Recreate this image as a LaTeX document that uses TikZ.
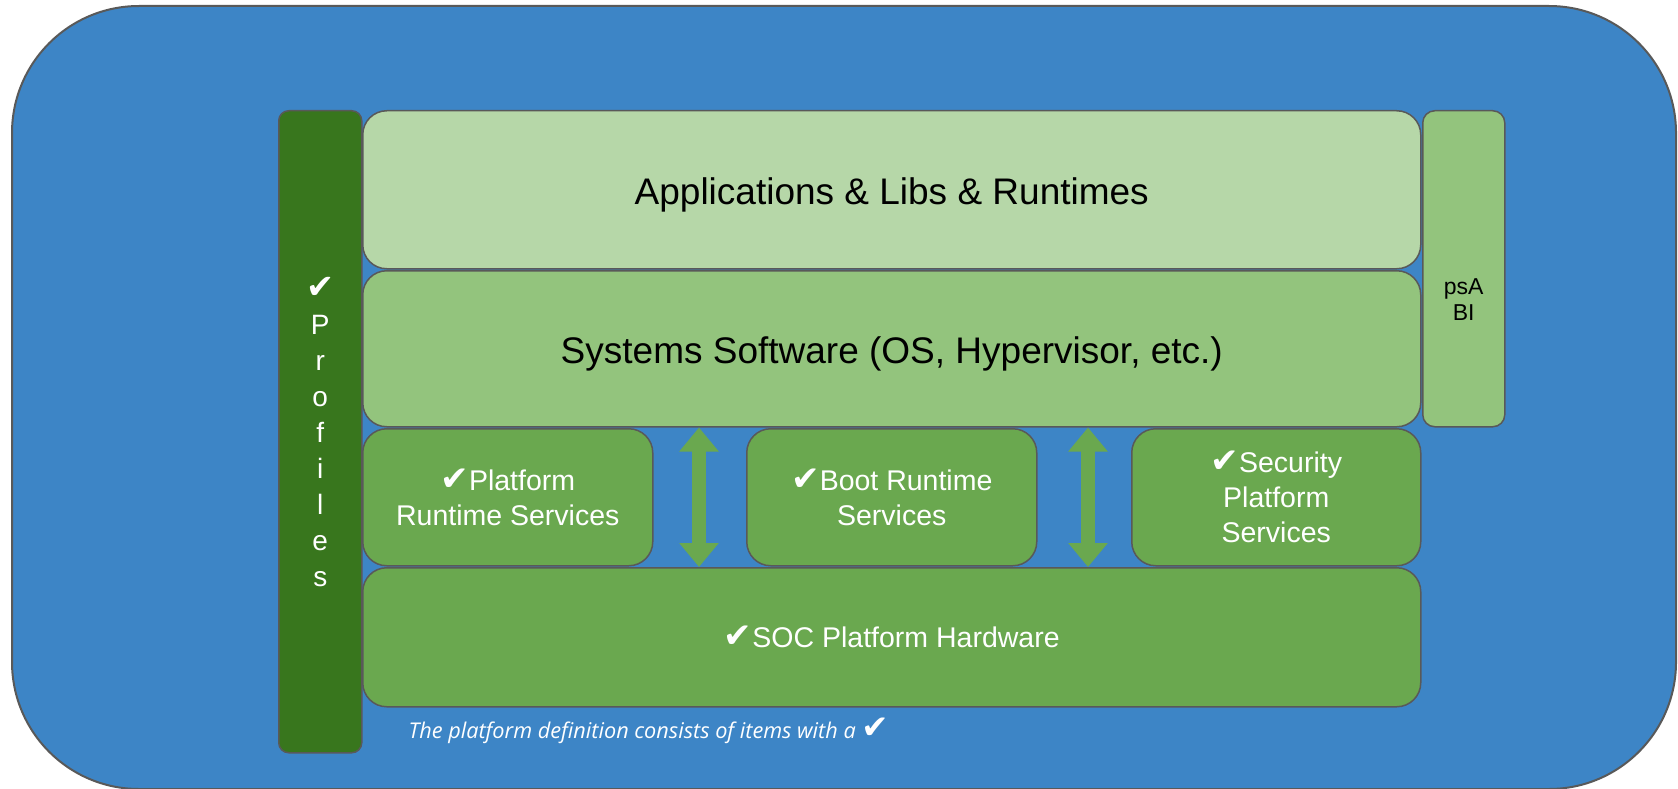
\documentclass[tikz,border=0pt]{standalone}
\usepackage{fontspec}
\setmainfont{Liberation Sans}
\newfontfamily\symfont{DejaVu Sans}
\newfontfamily\notefont{Open Sans}
\usetikzlibrary{arrows.meta}

\definecolor{bgblue}{HTML}{3D85C6}
\definecolor{edgegray}{HTML}{595959}
\definecolor{darkgreen}{HTML}{38761D}
\definecolor{lightgreen}{HTML}{B6D7A8}
\definecolor{midgreen}{HTML}{93C47D}
\definecolor{svcgreen}{HTML}{6AA84F}

\newcommand{\tick}{{\symfont\scalebox{1.2}{✔}}}

\tikzset{
  layer/.style={draw=edgegray, line width=1.5pt, rounded corners=24pt,
    anchor=north west, inner sep=0pt, align=center},
  bigtext/.style={font=\fontsize{37}{44}\selectfont, text height=37pt, text depth=8pt},
  svctext/.style={font=\fontsize{28.5}{35}\selectfont, text=white},
  twoway/.style={svcgreen, line width=14pt,
    {Triangle[width=38pt,length=24pt]}-{Triangle[width=38pt,length=24pt]}}
}

\begin{document}
\begin{tikzpicture}[x=1pt,y=-1pt]
\useasboundingbox (0,0) rectangle (1678,789);

% background panel
\node[draw=edgegray, line width=2pt, fill=bgblue, rounded corners=127pt,
  anchor=north west, minimum width=1664pt, minimum height=783pt] (frame) at (11,5) {};

% side bars
\node[layer, rounded corners=10pt, fill=darkgreen, minimum width=83pt, minimum height=642pt,
  text=white, font=\fontsize{28}{36}\selectfont] (prof) at (278,110)
  {\tick\\P\\r\\o\\f\\i\\l\\e\\s};
\node[layer, rounded corners=12pt, fill=midgreen, minimum width=82pt, minimum height=316pt]
  (psabi) at (1422,110) {};
\node[font=\fontsize{23}{26}\selectfont, align=center] (psabitext)
  at ([yshift=-31pt]psabi.center) {psA\\BI};

% main stack
\node[layer, bigtext, fill=lightgreen, minimum width=1058pt, minimum height=158pt]
  (apps) at (362,110) {Applications \& Libs \& Runtimes};
\node[layer, bigtext, fill=midgreen, minimum width=1058pt, minimum height=156pt]
  (sys) at (362,270) {Systems Software (OS, Hypervisor, etc.)};

\node[layer, svctext, fill=svcgreen, minimum width=290pt, minimum height=137pt]
  (prs) at (362,428) {\tick Platform\\Runtime Services};
\node[layer, svctext, fill=svcgreen, minimum width=290pt, minimum height=137pt]
  (brs) at (746,428) {\tick Boot Runtime\\Services};
\node[layer, svctext, fill=svcgreen, minimum width=289pt, minimum height=137pt]
  (sps) at (1131,428) {\tick Security\\Platform\\Services};

\node[layer, svctext, fill=svcgreen, minimum width=1058pt, minimum height=139pt]
  (soc) at (362,567) {\tick SOC Platform Hardware};

% links between the service boxes
\coordinate (gapA) at (699,0);
\coordinate (gapB) at (1088,0);
\draw[twoway] (sys.south -| gapA) -- (soc.north -| gapA);
\draw[twoway] (sys.south -| gapB) -- (soc.north -| gapB);

% footnote
\node[anchor=west, text=white, font=\notefont\itshape\fontsize{21.7}{24}\selectfont]
  (note) at (405,731) {The platform definition consists of items with a {\scalebox{1.25}{\tick}}};
\end{tikzpicture}
\end{document}
